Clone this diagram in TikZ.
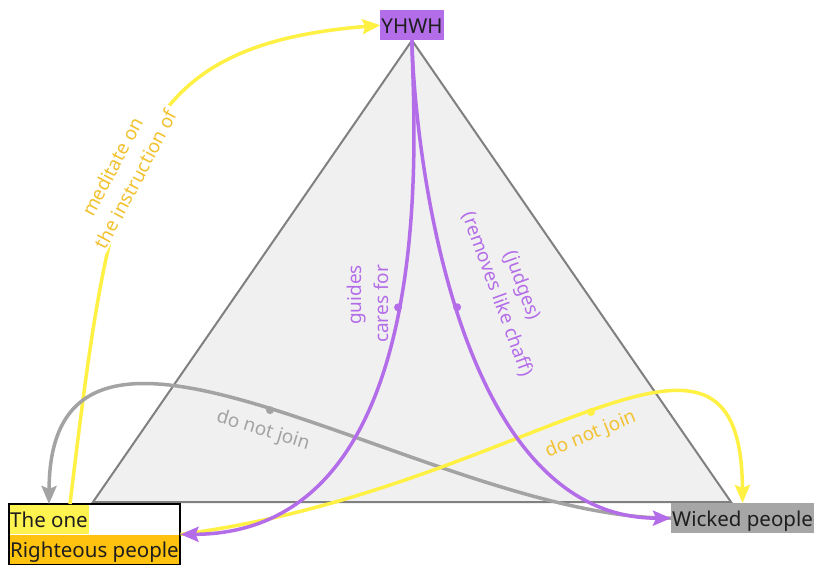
\documentclass[tikz,border=0pt]{standalone}
\usepackage{fontspec}
\setmainfont{Noto Sans}
\usetikzlibrary{arrows.meta,fit,backgrounds,calc}
\definecolor{purp}{HTML}{B46DE8}
\definecolor{ylw}{HTML}{FFF044}
\definecolor{ylwtext}{HTML}{F2C230}
\definecolor{gry}{HTML}{A3A3A3}
\definecolor{grybox}{HTML}{A6A6A6}
\definecolor{onefill}{HTML}{FFF350}
\definecolor{goldfill}{HTML}{FFC20E}
\definecolor{trifill}{HTML}{F0F0F0}
\definecolor{tristroke}{HTML}{808080}
\definecolor{nodetext}{HTML}{1E1E1E}
\begin{document}
\begin{tikzpicture}[x=1pt,y=-1pt,
  nodebox/.style={inner xsep=1pt, inner ysep=2pt, text height=21pt, text depth=5pt,
    font=\fontsize{20.5}{24}\selectfont, text=nodetext},
  lbl/.style={font=\fontsize{19}{26.5}\selectfont, inner sep=1pt, align=center},
  conn/.style={line width=3.5pt, -{Stealth[length=18pt,width=15pt,inset=3pt]}},
  dotn/.style={circle, inner sep=0pt, minimum size=8pt, fill=#1},
]
\useasboundingbox (0,0) rectangle (825,575);

% nodes
\node[nodebox, fill=purp, anchor=north] (yhwh) at (412,10) {YHWH};
\node[nodebox, fill=onefill, anchor=north west] (one) at (9,504) {The one};
\node[nodebox, fill=goldfill, anchor=north west, minimum width=170] (righteous) at (one.south west) {Righteous people};
\node[fit=(one)(righteous), draw=black, line width=1.2pt, inner sep=0pt] (rp) {};
\node[nodebox, fill=grybox, anchor=north west] (wicked) at (671,503) {Wicked people};

% background triangle
\begin{scope}[on background layer]
  \fill[white] (0,0) rectangle (825,575);
  \coordinate (tl) at (93,502);
  \coordinate (tr) at (731,502);
  \filldraw[fill=trifill, draw=tristroke, line width=2pt] (yhwh.south) -- (tl) -- (tr) -- cycle;
\end{scope}

% connectors
\draw[conn, color=ylw] ($(one.north)+(21,0)$) .. controls (112,156) and (129,46) .. (yhwh.west);
\node[lbl, text=ylwtext, fill=white, inner xsep=4pt, rotate=62] (lmed) at (124,173) {meditate on\\the instruction of};

\draw[conn, color=gry] (wicked.west) .. controls (430,518) and (50,235) .. (one.north)
  node[pos=0.5, dotn=gry] (dg) {};
\node[lbl, text=gry, rotate=-16.7] (lg) at (263,431) {do not join};

\draw[conn, color=ylw] (rp.east) .. controls (527,490) and (741,263) .. (wicked.north)
  node[pos=0.5, dotn=ylw] (dy) {};
\node[lbl, text=ylwtext, rotate=22] (ly) at (591,435) {do not join};

\draw[conn, color=purp] (yhwh.south) .. controls (411,95) and (453,533) .. (rp.east)
  node[pos=0.5, dotn=purp] (dp1) {};
\node[lbl, text=purp, align=right, rotate=90] (lp1) at (368,304) {guides\\cares for};

\draw[conn, color=purp] (yhwh.south) .. controls (413,115) and (445,518) .. (wicked.west)
  node[pos=0.5, dotn=purp] (dp2) {};
\node[lbl, text=purp, rotate=-70] (lp2) at (510,290) {(judges)\\(removes like chaff)};
\end{tikzpicture}
\end{document}
